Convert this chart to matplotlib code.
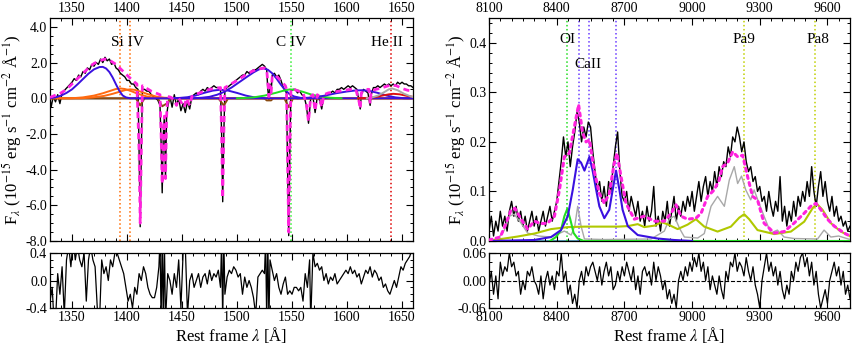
import numpy as np
import matplotlib
matplotlib.use('Agg')
import matplotlib.pyplot as plt
from matplotlib.ticker import MultipleLocator, FormatStrFormatter

# ---------------- LEFT PANEL DATA (UV) ----------------
uv_spec = [(1330,0.0),(1331,-0.5),(1333,0.1),(1335,-0.2),(1337,0.2),(1339,-0.3),(1341,0.3),(1344,0.5),
           (1347,0.7),(1350,0.9),(1352,1.1),(1354,1.0),(1356,1.3),(1358,1.2),(1360,1.5),(1362,1.4),
           (1364,1.7),(1366,1.6),(1368,1.9),(1370,1.8),(1372,2.0),(1374,1.9),(1376,2.2),(1378,2.0),
           (1380,2.3),(1382,2.1),(1384,2.2),(1386,1.9),(1388,2.0),(1390,1.7),(1392,1.6),(1394,1.4),
           (1396,1.3),(1398,1.2),(1400,1.0),(1402,1.0),(1404,0.8),(1406,0.8),(1408,0.6),(1410,0.5),
           (1411,-3.0),(1412,-7.2),(1413,-3.0),(1414,0.5),(1416,0.5),(1418,0.4),(1420,0.4),(1422,0.2),
           (1424,0.1),(1426,0.0),(1428,-0.1),(1430,-0.4),(1431,-2.5),(1432,-5.3),(1433,-2.0),(1434,-1.0),
           (1435,-4.5),(1436,-1.0),(1437,-0.5),(1439,0.1),(1441,-0.5),(1443,0.2),(1445,-0.4),(1447,0.0),
           (1449,-0.7),(1451,-0.3),(1453,-0.8),(1455,-0.2),(1457,-0.6),(1459,0.1),(1461,0.2),(1463,0.3),
           (1465,0.2),(1467,0.4),(1469,0.5),(1471,0.4),(1473,0.6),(1475,0.5),(1477,0.6),(1479,0.7),
           (1481,0.6),(1483,0.6),(1485,0.5),(1486,-2.0),(1487,-5.8),(1488,-2.0),(1489,0.5),(1491,0.6),
           (1493,0.7),(1495,0.8),(1497,0.9),(1499,1.0),(1501,1.1),(1503,1.2),(1505,1.3),(1507,1.3),
           (1509,1.5),(1511,1.4),(1513,1.5),(1515,1.6),(1517,1.6),(1519,1.7),(1521,1.8),(1523,1.9),
           (1525,1.8),(1527,1.6),(1528,0.5),(1529,-0.1),(1530,0.8),(1531,0.3),(1532,1.3),(1534,1.4),
           (1536,1.2),(1538,1.3),(1540,1.0),(1542,0.6),(1544,0.4),(1545,0.3),(1546,-4.0),(1547,-7.7),
           (1548,-3.0),(1549,0.4),(1551,0.5),(1553,0.5),(1555,0.3),(1557,0.4),(1559,0.2),(1561,0.1),
           (1563,-0.4),(1565,-1.4),(1567,0.0),(1569,0.1),(1571,-0.8),(1573,0.1),(1575,-0.1),(1577,-0.6),
           (1579,0.1),(1581,0.2),(1583,0.3),(1585,0.3),(1587,0.4),(1589,0.3),(1591,0.5),(1593,0.5),
           (1595,0.6),(1597,0.5),(1599,0.6),(1601,0.7),(1603,0.6),(1605,0.7),(1607,0.6),(1609,0.5),
           (1611,-0.2),(1612,-0.6),(1613,0.2),(1615,0.5),(1617,0.4),(1619,0.3),(1621,-0.4),(1622,0.2),
           (1624,0.6),(1626,0.6),(1628,0.7),(1630,0.6),(1632,0.7),(1634,0.8),(1636,0.7),(1638,0.8),
           (1640,0.7),(1642,0.8),(1644,0.7),(1646,0.9),(1648,0.8),(1650,0.9),(1652,0.8),(1654,0.8),
           (1656,0.7),(1658,0.7),(1660,0.6)]

uv_model = [(1330,0.05),(1340,0.3),(1345,0.5),(1350,0.8),(1355,1.1),(1360,1.4),(1365,1.7),(1370,1.95),
            (1375,2.1),(1380,2.2),(1385,2.1),(1390,1.9),(1395,1.6),(1400,1.3),(1405,1.0),(1409,0.8),
            (1411,-3.0),(1412,-7.0),(1413,-3.0),(1414,0.7),(1418,0.55),(1422,0.4),(1426,0.3),(1430,0.2),
            (1431,-2.0),(1432,-4.8),(1433,-2.0),(1434,-1.0),(1435,-4.5),(1436,-1.0),(1437,0.1),(1440,0.05),
            (1443,-0.1),(1445,-0.4),(1447,0.0),(1450,-0.3),(1452,-0.5),(1454,0.0),(1457,-0.4),(1459,0.1),
            (1462,0.2),(1466,0.3),(1470,0.4),(1475,0.5),(1480,0.55),(1485,0.6),(1486,-2.0),(1487,-5.6),
            (1488,-2.0),(1489,0.6),(1492,0.7),(1496,0.85),(1500,1.0),(1505,1.2),(1510,1.4),(1515,1.55),
            (1520,1.65),(1525,1.7),(1527,1.6),(1528,0.9),(1529,0.1),(1530,0.7),(1531,0.3),(1532,1.2),
            (1535,1.3),(1538,1.1),(1541,0.9),(1544,0.7),(1545,0.5),(1546,-3.5),(1547,-7.5),(1548,-3.0),
            (1549,0.5),(1552,0.5),(1556,0.4),(1560,0.3),(1563,-0.3),(1565,-1.3),(1567,0.1),(1569,0.2),
            (1571,-0.7),(1573,0.2),(1575,0.1),(1577,-0.5),(1579,0.2),(1583,0.3),(1588,0.35),(1593,0.4),
            (1598,0.45),(1603,0.5),(1608,0.5),(1611,-0.2),(1612,-0.6),(1613,0.3),(1617,0.5),(1620,0.5),
            (1621,-0.3),(1622,0.4),(1626,0.5),(1630,0.55),(1635,0.65),(1640,0.75),(1645,0.7),(1650,0.55),
            (1655,0.45),(1660,0.4)]

uv_blue_siiv = [(1330,0.0),(1335,0.05),(1340,0.15),(1345,0.3),(1350,0.5),(1355,0.78),(1360,1.08),
                (1365,1.38),(1370,1.62),(1375,1.75),(1378,1.76),(1381,1.67),(1384,1.47),(1387,1.16),
                (1390,0.78),(1393,0.42),(1396,0.16),(1399,0.05),(1403,0.0),(1660,0.0)]
uv_orange_a = [(1330,0.0),(1350,0.0),(1360,0.05),(1370,0.15),(1378,0.28),(1385,0.42),(1390,0.52),
               (1394,0.55),(1398,0.52),(1403,0.42),(1410,0.25),(1418,0.1),(1425,0.03),(1435,0.0),(1660,0.0)]
uv_orange_b = [(1330,0.0),(1359,0.0),(1369,0.05),(1379,0.13),(1387,0.25),(1394,0.38),(1399,0.47),
               (1403,0.5),(1407,0.47),(1412,0.38),(1419,0.23),(1427,0.09),(1434,0.03),(1444,0.0),(1660,0.0)]
uv_blue_1485 = [(1440,0.0),(1448,0.02),(1455,0.06),(1462,0.15),(1470,0.3),(1478,0.43),(1485,0.48),
                (1492,0.43),(1500,0.3),(1508,0.15),(1515,0.06),(1525,0.0)]
uv_blue_civ = [(1460,0.0),(1468,0.03),(1475,0.08),(1482,0.2),(1488,0.35),(1495,0.6),(1502,0.9),
               (1509,1.2),(1515,1.45),(1520,1.62),(1524,1.68),(1528,1.6),(1532,1.4),(1536,1.1),
               (1540,0.75),(1544,0.45),(1548,0.22),(1552,0.1),(1558,0.02),(1565,0.0)]
uv_green_civ = [(1500,0.0),(1508,0.02),(1515,0.05),(1525,0.15),(1535,0.3),(1542,0.42),(1548,0.5),
                (1554,0.46),(1560,0.36),(1568,0.2),(1576,0.1),(1585,0.03),(1595,0.0)]
uv_blue_1610 = [(1555,0.0),(1562,0.02),(1570,0.05),(1580,0.15),(1590,0.28),(1600,0.38),(1608,0.44),
                (1614,0.45),(1620,0.42),(1628,0.3),(1636,0.15),(1644,0.05),(1652,0.0),(1660,0.0)]
uv_red_heii = [(1610,0.0),(1618,0.02),(1625,0.06),(1632,0.15),(1638,0.22),(1642,0.25),(1648,0.22),
               (1654,0.14),(1660,0.08)]
uv_gray_heii = [(1618,0.0),(1623,0.05),(1628,0.15),(1634,0.35),(1638,0.5),(1641,0.55),(1646,0.45),
                (1652,0.25),(1658,0.1),(1660,0.07)]
uv_brown_abs = [(1330,0.0),(1408,0.0),(1412,-0.4),(1416,0.0),(1428,0.0),(1432,-0.45),(1436,-0.3),
                (1440,0.0),(1483,0.0),(1488,-0.4),(1492,0.0),(1525,0.0),(1527,-0.12),(1531,-0.12),
                (1533,0.0),(1543,0.0),(1547,-0.5),(1551,0.0),(1660,0.0)]

uv_resid = [(1330,-0.3),(1332,-0.1),(1333,-0.4),(1335,-0.6),(1337,0.1),(1339,-0.2),(1341,0.2),(1343,-0.5),
            (1345,0.3),(1347,0.5),(1349,0.2),(1351,0.6),(1353,0.3),(1355,0.5),(1357,0.3),(1359,0.2),
            (1361,0.4),(1363,-0.3),(1365,0.3),(1367,0.5),(1369,0.3),(1371,0.2),(1373,-0.4),(1375,-0.6),
            (1377,0.3),(1379,0.1),(1381,0.2),(1383,0.0),(1385,0.3),(1387,0.2),(1389,0.4),(1391,0.4),
            (1393,0.3),(1395,0.2),(1397,0.1),(1399,-0.1),(1401,-0.3),(1403,-0.2),(1405,-0.4),(1407,-0.1),
            (1409,-0.2),(1411,0.1),(1413,0.0),(1415,0.2),(1417,0.1),(1419,-0.1),(1421,-0.2),(1423,-0.25),
            (1425,-0.25),(1427,-0.1),(1429,0.2),(1430,0.6),(1431,-0.6),(1432,0.6),(1433,-0.6),(1434,0.6),
            (1435,-0.6),(1437,0.1),(1439,0.0),(1441,-0.2),(1443,0.1),(1445,-0.1),(1447,0.3),(1449,-0.4),
            (1451,0.4),(1453,0.5),(1455,-0.5),(1457,0.0),(1459,0.1),(1461,-0.1),(1463,0.0),(1465,0.1),
            (1467,-0.1),(1469,0.05),(1471,0.1),(1473,-0.05),(1475,0.15),(1477,0.0),(1479,0.1),(1481,0.05),
            (1483,0.15),(1485,-0.1),(1486,0.6),(1487,-0.6),(1488,0.6),(1489,-0.2),(1491,0.05),(1493,0.15),
            (1495,0.1),(1497,0.2),(1499,0.15),(1501,0.05),(1503,0.1),(1505,-0.2),(1507,0.05),(1509,-0.1),
            (1511,0.0),(1513,-0.1),(1515,-0.25),(1517,-0.5),(1519,0.05),(1521,0.1),(1523,0.15),(1525,0.1),
            (1526,0.6),(1527,-0.6),(1528,0.6),(1529,-0.6),(1530,0.3),(1532,0.15),(1534,0.0),(1536,0.1),
            (1538,-0.1),(1540,-0.2),(1542,-0.05),(1544,0.05),(1546,-0.2),(1548,-0.15),(1550,-0.2),
            (1552,-0.1),(1554,-0.1),(1556,-0.15),(1558,-0.1),(1560,-0.3),(1562,0.1),(1564,-0.1),(1566,0.3),
            (1567,-0.6),(1569,0.4),(1571,0.2),(1573,0.25),(1575,0.15),(1577,0.2),(1579,0.0),(1581,0.1),
            (1583,-0.05),(1585,0.05),(1587,0.0),(1589,0.1),(1591,-0.05),(1593,0.0),(1595,0.05),(1597,0.1),
            (1599,0.15),(1601,0.1),(1603,0.2),(1605,0.1),(1607,0.15),(1609,0.05),(1611,0.1),(1613,-0.05),
            (1615,0.05),(1617,0.15),(1619,0.1),(1621,0.2),(1623,0.05),(1625,0.15),(1627,0.1),(1629,0.0),
            (1631,0.05),(1633,-0.1),(1635,-0.05),(1637,-0.15),(1639,-0.2),(1641,-0.1),(1643,0.0),
            (1645,-0.1),(1647,0.05),(1649,0.2),(1651,0.15),(1653,0.25),(1655,0.3),(1657,0.35),(1659,0.45)]

uv_lines = {'Si IV': [1393.76, 1402.77], 'C IV': [1549.06], 'He II': [1640.4]}
uv_line_colors = {'Si IV': '#ff6a00', 'C IV': '#33ee33', 'He II': '#dd0000'}
uv_label_pos = {'Si IV': (1400, 3.15), 'C IV': (1549, 3.15), 'He II': (1636, 3.15)}

# ---------------- RIGHT PANEL DATA (NIR) ----------------
nir_wave = np.arange(8100, 9701, 10)
nir_flux = [0.02,0.05,0.01,0.04,0.02,0.06,0.03,0.05,0.02,0.06,
            0.08,0.05,0.07,0.04,0.06,0.03,0.05,0.02,0.04,0.06,
            0.03,0.05,0.02,0.04,0.06,0.03,0.05,0.07,0.04,0.06,
            0.08,0.12,0.16,0.21,0.17,0.20,0.15,0.19,0.22,0.26,
            0.24,0.20,0.23,0.21,0.24,0.23,0.18,0.14,0.10,0.12,
            0.08,0.11,0.07,0.12,0.10,0.15,0.19,0.22,0.14,0.09,
            0.08,0.10,0.06,0.09,0.07,0.05,0.08,0.04,0.06,0.03,
            0.07,0.04,0.06,0.11,0.03,0.05,0.02,0.06,0.04,0.08,
            0.03,0.06,0.09,0.04,0.07,0.05,0.08,0.06,0.09,0.07,
            0.10,0.06,0.09,0.12,0.08,0.11,0.13,0.09,0.12,0.10,
            0.14,0.11,0.15,0.13,0.16,0.15,0.19,0.17,0.21,0.20,
            0.23,0.21,0.18,0.20,0.16,0.14,0.15,0.12,0.13,0.10,
            0.11,0.08,0.09,0.06,0.10,0.07,0.05,0.08,0.06,0.13,
            0.04,0.07,0.03,0.06,0.04,0.08,0.05,0.09,0.07,0.10,
            0.08,0.12,0.09,0.15,0.10,0.07,0.11,0.14,0.09,0.12,
            0.08,0.06,0.09,0.05,0.07,0.04,0.05,0.03,0.04,0.02,0.03]
nir_resid = [-1,2,-3,1,-4,4,1,3,2,6,
             3,4,1,2,-3,0,-2,2,1,3,
             0,-1,-3,1,-4,0,2,-1,1,-2,
             2,1,6,0,2,-3,-1,-5,-3,-6,
             0,2,-1,3,1,3,4,2,0,3,
             -1,2,4,1,3,-2,-1,2,0,3,
             1,4,2,0,3,-2,1,-3,2,3,
             1,2,-1,4,0,3,1,-2,0,-4,
             -2,-5,-3,-6,0,2,0,3,1,4,
             2,5,3,6,2,4,0,3,-2,1,
             -1,-3,1,-2,-4,2,0,4,3,6,
             2,4,3,1,5,2,0,3,-1,-3,
             -6,0,3,6,2,4,1,3,-1,2,
             -2,-4,-1,-3,2,0,4,2,5,6,
             3,5,1,4,-1,2,-3,-6,-4,-2,
             -5,0,2,4,1,3,-1,2,-3,-1,-4]  # in units of 0.01

nir_model = [(8100,0.002),(8150,0.008),(8175,0.035),(8197,0.062),(8215,0.066),(8242,0.044),(8271,0.024),
             (8301,0.04),(8330,0.035),(8360,0.036),(8390,0.05),(8412,0.103),(8434,0.17),(8456,0.177),
             (8478,0.23),(8497,0.275),(8515,0.218),(8530,0.2),(8545,0.204),(8567,0.14),(8589,0.096),
             (8611,0.076),(8633,0.096),(8655,0.157),(8667,0.177),(8685,0.13),(8707,0.076),(8744,0.044),
             (8788,0.05),(8833,0.04),(8877,0.04),(8907,0.056),(8929,0.073),(8951,0.05),(8980,0.044),
             (9017,0.046),(9040,0.056),(9069,0.09),(9098,0.103),(9120,0.123),(9135,0.15),(9157,0.157),
             (9180,0.18),(9202,0.17),(9224,0.173),(9246,0.13),(9268,0.09),(9290,0.083),(9319,0.036),
             (9364,0.016),(9408,0.019),(9452,0.036),(9497,0.056),(9526,0.07),(9549,0.076),(9571,0.063),
             (9600,0.044),(9630,0.03),(9674,0.016),(9700,0.01)]
nir_blue_caii = [(8100,0.0),(8300,0.002),(8375,0.008),(8419,0.022),(8449,0.05),(8471,0.103),(8493,0.165),
                 (8508,0.158),(8523,0.142),(8545,0.17),(8560,0.14),(8575,0.103),(8589,0.07),(8611,0.046),
                 (8633,0.063),(8648,0.103),(8663,0.142),(8678,0.103),(8692,0.063),(8715,0.03),(8759,0.012),
                 (8847,0.005),(8920,0.002),(9000,0.0)]
nir_green_oi = [(8370,0.0),(8397,0.008),(8419,0.022),(8434,0.05),(8447,0.065),(8460,0.044),(8475,0.016),
                (8493,0.005),(8520,0.0),(9700,0.0)]
nir_yellow = [(8100,0.0),(8124,0.002),(8227,0.009),(8301,0.015),(8375,0.024),(8449,0.028),(8523,0.029),
              (8597,0.029),(8670,0.029),(8715,0.03),(8759,0.034),(8788,0.028),(8833,0.031),(8865,0.038),
              (8890,0.034),(8936,0.024),(8980,0.033),(9017,0.044),(9054,0.029),(9113,0.019),(9172,0.029),
              (9209,0.047),(9231,0.054),(9253,0.044),(9290,0.022),(9364,0.014),(9438,0.019),(9497,0.039),
              (9534,0.066),(9553,0.075),(9578,0.063),(9615,0.036),(9659,0.019),(9700,0.01)]
nir_gray = [(8100,0.0),(8140,0.005),(8168,0.022),(8190,0.05),(8212,0.054),(8242,0.036),(8271,0.016),
            (8320,0.01),(8375,0.008),(8410,0.015),(8434,0.02),(8464,0.012),(8480,0.03),(8493,0.07),
            (8508,0.03),(8523,0.004),(8611,0.003),(8818,0.004),(8877,0.02),(8900,0.045),(8921,0.05),
            (8945,0.025),(8966,0.008),(9025,0.006),(9054,0.015),(9084,0.07),(9113,0.09),(9143,0.07),
            (9165,0.123),(9187,0.15),(9202,0.116),(9219,0.131),(9238,0.103),(9260,0.083),(9275,0.103),
            (9297,0.076),(9319,0.05),(9349,0.016),(9378,0.022),(9408,0.008),(9452,0.005),(9556,0.004),
            (9585,0.022),(9615,0.008),(9650,0.01),(9700,0.003)]

nir_lines = {'OI': [8446], 'CaII': [8498, 8542, 8662], 'Pa9': [9229], 'Pa8': [9546]}
nir_line_colors = {'OI': '#22dd22', 'CaII': '#6a3cff', 'Pa9': '#c0d000', 'Pa8': '#c0d000'}
nir_label_pos = {'OI': (8446, 0.407), 'CaII': (8540, 0.357), 'Pa9': (9229, 0.407), 'Pa8': (9556, 0.407)}

# ---------------- STYLE ----------------
plt.rcParams.update({'font.family': ['Liberation Serif', 'DejaVu Serif'],
                     'mathtext.fontset': 'stix',
                     'axes.unicode_minus': False,
                     'font.size': 10,
                     'axes.linewidth': 0.9})

BLUE = '#3a10e0'
ORANGE = '#ff6a10'
GREEN = '#22dd22'
RED = '#dd1010'
MAGENTA = '#ff22dd'
GRAY = '#a8a8a8'
BROWN = '#8a4a10'
YELLOW = '#b0c800'

fig = plt.figure(figsize=(8.56, 3.46), dpi=100)
axL = fig.add_axes([0.0584, 0.3035, 0.4241, 0.6445])
axLr = fig.add_axes([0.0584, 0.1098, 0.4241, 0.1590])
axR = fig.add_axes([0.5713, 0.3035, 0.4217, 0.6445])
axRr = fig.add_axes([0.5713, 0.1098, 0.4217, 0.1590])


def style(ax, labeltop, labelbottom):
    ax.tick_params(which='both', direction='in', top=True, right=True,
                   labeltop=labeltop, labelbottom=labelbottom, labelsize=10, pad=2)
    ax.tick_params(which='major', length=5, width=0.8)
    ax.tick_params(which='minor', length=2.5, width=0.7)


def xy(pairs):
    a = np.array(pairs, dtype=float)
    return a[:, 0], a[:, 1]


ylab = r'F$_\lambda$ (10$^{-15}$ erg s$^{-1}$ cm$^{-2}$ Å$^{-1}$)'
xlab = r'Rest frame $\lambda$ [Å]'

# ---- left top ----
axL.axhline(0, color='#b8b8b8', lw=2.2, zorder=1)
for name, waves in uv_lines.items():
    for w in waves:
        axL.axvline(w, color=uv_line_colors[name], ls=':', lw=1.1, zorder=1)
x, y = xy(uv_spec)
axL.plot(x, y, color='k', lw=1.0, zorder=2)
for data, col in [(uv_brown_abs, BROWN), (uv_orange_a, ORANGE), (uv_orange_b, ORANGE),
                  (uv_blue_siiv, BLUE), (uv_blue_1485, BLUE), (uv_blue_civ, BLUE),
                  (uv_green_civ, GREEN), (uv_blue_1610, BLUE), (uv_red_heii, RED),
                  (uv_gray_heii, GRAY)]:
    x, y = xy(data)
    axL.plot(x, y, color=col, lw=1.4, zorder=3)
x, y = xy(uv_model)
axL.plot(x, y, color=MAGENTA, lw=2.0, ls=(0, (2.2, 1.6)), zorder=4)
for name, (lx, ly) in uv_label_pos.items():
    axL.text(lx, ly, name, ha='center', va='center', fontsize=11)
axL.set_xlim(1330, 1660)
axL.set_ylim(-8, 4.5)
axL.xaxis.set_major_locator(MultipleLocator(50))
axL.xaxis.set_minor_locator(MultipleLocator(10))
axL.yaxis.set_major_locator(MultipleLocator(2))
axL.yaxis.set_minor_locator(MultipleLocator(0.5))
axL.yaxis.set_major_formatter(FormatStrFormatter('%.1f'))
axL.set_ylabel(ylab, fontsize=12, labelpad=1)
style(axL, True, False)

# ---- left residual ----
x, y = xy(uv_resid)
axLr.plot(x, y, color='k', lw=0.9)
axLr.set_xlim(1330, 1660)
axLr.set_ylim(-0.4, 0.4)
axLr.xaxis.set_major_locator(MultipleLocator(50))
axLr.xaxis.set_minor_locator(MultipleLocator(10))
axLr.set_yticks([-0.4, 0.0, 0.4])
axLr.yaxis.set_minor_locator(MultipleLocator(0.1))
axLr.yaxis.set_major_formatter(FormatStrFormatter('%.1f'))
axLr.set_xlabel(xlab, fontsize=12, labelpad=1)
style(axLr, False, True)

# ---- right top ----
axR.axhline(0, color='#3a8fb0', lw=1.2, zorder=1)
for name, waves in nir_lines.items():
    for w in waves:
        axR.axvline(w, color=nir_line_colors[name], ls=':', lw=1.1, zorder=1)
axR.plot(nir_wave, nir_flux, color='k', lw=1.0, zorder=2)
x, y = xy(nir_gray)
axR.plot(x, y, color=GRAY, lw=1.0, zorder=3)
for data, col in [(nir_yellow, YELLOW), (nir_green_oi, GREEN), (nir_blue_caii, BLUE)]:
    x, y = xy(data)
    axR.plot(x, y, color=col, lw=1.5, zorder=3)
x, y = xy(nir_model)
axR.plot(x, y, color=MAGENTA, lw=2.2, ls=(0, (1.0, 1.4)), dash_capstyle='round', zorder=4)
for name, (lx, ly) in nir_label_pos.items():
    axR.text(lx, ly, name, ha='center', va='center', fontsize=11)
axR.set_xlim(8100, 9700)
axR.set_ylim(0, 0.45)
axR.xaxis.set_major_locator(MultipleLocator(300))
axR.xaxis.set_minor_locator(MultipleLocator(50))
axR.yaxis.set_major_locator(MultipleLocator(0.1))
axR.yaxis.set_minor_locator(MultipleLocator(0.02))
axR.yaxis.set_major_formatter(FormatStrFormatter('%.1f'))
axR.set_ylabel(ylab, fontsize=12, labelpad=1)
style(axR, True, False)

# ---- right residual ----
axRr.axhline(0, color='k', ls='--', lw=0.8)
axRr.plot(nir_wave, np.array(nir_resid) * 0.01, color='k', lw=0.9)
axRr.set_xlim(8100, 9700)
axRr.set_ylim(-0.06, 0.06)
axRr.xaxis.set_major_locator(MultipleLocator(300))
axRr.xaxis.set_minor_locator(MultipleLocator(50))
axRr.set_yticks([-0.06, 0.0, 0.06])
axRr.yaxis.set_minor_locator(MultipleLocator(0.02))
axRr.yaxis.set_major_formatter(FormatStrFormatter('%.2f'))
axRr.set_xlabel(xlab, fontsize=12, labelpad=1)
style(axRr, False, True)

fig.savefig('out.png', dpi=100)
